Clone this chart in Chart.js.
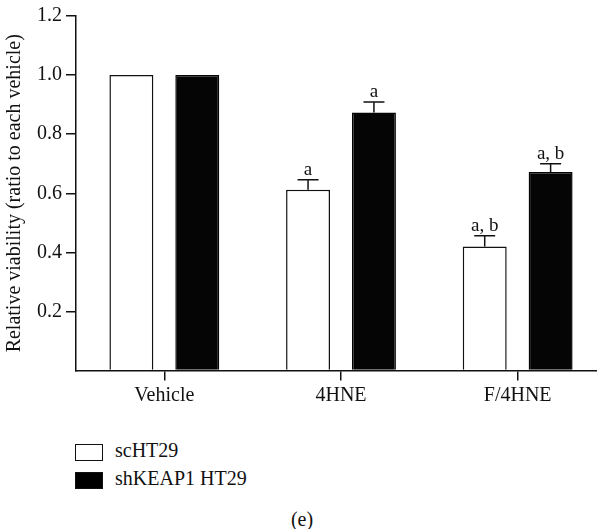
<!DOCTYPE html>
<html>
<head>
<meta charset="utf-8">
<script src="https://cdn.jsdelivr.net/npm/chart.js@4/dist/chart.umd.min.js"></script>
<style>
  html, body { margin: 0; padding: 0; background: #fff; width: 597px; height: 529px; overflow: hidden; }
  #wrap { position: absolute; left: 0; top: 0; width: 606px; height: 420px; }
  .leg { position: absolute; left: 75px; font-family: "Liberation Serif", "DejaVu Serif", serif; font-size: 20px; color: #111; }
  .sw { position: absolute; left: 0; width: 26px; height: 15px; border: 1.5px solid #111; box-sizing: content-box; }
  .lt { position: absolute; left: 40px; white-space: nowrap; }
  #cap { position: absolute; left: 0; width: 604px; top: 508px; text-align: center; font-family: "Liberation Serif", "DejaVu Serif", serif; font-size: 20px; color: #111; }
</style>
</head>
<body>
<div id="wrap"><canvas id="c" width="606" height="420"></canvas></div>
<div class="leg" style="top:444px"><div class="sw" style="background:#fff"></div><div class="lt" style="top:-5px">scHT29</div></div>
<div class="leg" style="top:472px"><div class="sw" style="background:#000"></div><div class="lt" style="top:-5px">shKEAP1 HT29</div></div>
<div id="cap">(e)</div>
<script>
const categories = ['Vehicle', '4HNE', 'F/4HNE'];
const seriesNames = ['scHT29', 'shKEAP1 HT29'];
const scHT29 = [1.0, 0.612, 0.42];
const shKEAP1 = [1.0, 0.873, 0.672];
const scErr = [0, 0.034, 0.036];
const shErr = [0, 0.036, 0.028];
const scSig = ['', 'a', 'a, b'];
const shSig = ['', 'a', 'a, b'];
const yTicks = [0.2, 0.4, 0.6, 0.8, 1.0, 1.2];

const FONT = '"Liberation Serif", "DejaVu Serif", serif';
const errs = [scErr, shErr];
const sigs = [scSig, shSig];

const errorPlugin = {
  id: 'errorBars',
  afterDatasetsDraw(chart) {
    const ctx = chart.ctx;
    const y = chart.scales.y;
    chart.data.datasets.forEach((ds, di) => {
      const meta = chart.getDatasetMeta(di);
      meta.data.forEach((bar, i) => {
        const e = errs[di][i];
        const v = ds.data[i];
        const top = y.getPixelForValue(v + e);
        ctx.save();
        ctx.strokeStyle = '#111';
        ctx.lineWidth = 1.5;
        if (e > 0) {
          ctx.beginPath();
          ctx.moveTo(bar.x, y.getPixelForValue(v));
          ctx.lineTo(bar.x, top);
          ctx.moveTo(bar.x - 10.5, top);
          ctx.lineTo(bar.x + 10.5, top);
          ctx.stroke();
        }
        const s = sigs[di][i];
        if (s) {
          ctx.fillStyle = '#111';
          ctx.font = '19px ' + FONT;
          ctx.textAlign = 'center';
          ctx.textBaseline = 'alphabetic';
          ctx.fillText(s, bar.x, top - 5);
        }
        ctx.restore();
      });
    });
  }
};

new Chart(document.getElementById('c'), {
  type: 'bar',
  data: {
    labels: categories,
    datasets: [
      { label: seriesNames[0], data: scHT29, backgroundColor: '#ffffff', borderColor: '#111', borderWidth: 1.5,
        categoryPercentage: 0.746, barPercentage: 0.667 },
      { label: seriesNames[1], data: shKEAP1, backgroundColor: '#050505', borderColor: '#050505', borderWidth: 1.5,
        categoryPercentage: 0.746, barPercentage: 0.667 }
    ]
  },
  options: {
    responsive: false,
    animation: false,
    layout: { padding: { top: 6, right: 0, bottom: 0, left: 0 } },
    plugins: { legend: { display: false }, tooltip: { enabled: false } },
    scales: {
      x: {
        grid: { offset: false, drawOnChartArea: false, drawTicks: true, tickLength: 10, color: '#111', lineWidth: 1.5 },
        border: { display: true, color: '#111', width: 1.5 },
        ticks: { color: '#111', font: { family: FONT, size: 20 }, padding: 3, maxRotation: 0 },
        afterFit(s) { s.height = 49.5; }
      },
      y: {
        min: 0, max: 1.2,
        afterBuildTicks(s) { s.ticks = [0].concat(yTicks).map(v => ({ value: v })); },
        grid: { drawOnChartArea: false, drawTicks: true, tickLength: 10,
                color: c => (c.tick && c.tick.value === 0) ? 'rgba(0,0,0,0)' : '#111', lineWidth: 1.5 },
        border: { display: true, color: '#111', width: 1.5 },
        ticks: { color: '#111', font: { family: FONT, size: 20 }, padding: 4,
                 callback: v => v === 0 ? '' : v.toFixed(1) },
        title: { display: true, text: 'Relative viability (ratio to each vehicle)', color: '#111',
                 font: { family: FONT, size: 20 }, padding: { top: 3, bottom: 0 } },
        afterFit(s) { s.width = 76; }
      }
    }
  },
  plugins: [errorPlugin]
});
</script>
</body>
</html>
